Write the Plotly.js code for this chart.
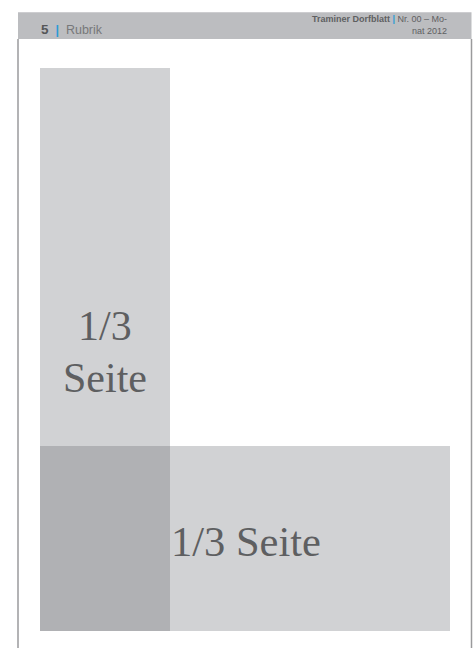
<!DOCTYPE html>
<html><head><meta charset="utf-8">
<script src="https://cdn.plot.ly/plotly-3.0.1.min.js"></script>
<style>html,body{margin:0;padding:0;background:#fff}#chart{width:476px;height:648px}</style>
</head><body><div id="chart"></div>
<script>
// Layout blocks of the page mock-up (page units = px of the sheet)
const blockNames = ["Kopfzeile", "1/3 Seite hoch", "1/3 Seite quer", "Überlappung"];
const blockX0 = [18, 40, 40, 40];
const blockX1 = [471.5, 170, 450, 170];
const blockY0 = [12.3, 68, 446, 446];
const blockY1 = [39, 446, 631, 631];
const blockColors = ["#bcbdc0", "#d1d2d4", "#d1d2d4", "#b0b1b4"];

const pageNumber = "5";
const sectionName = "Rubrik";
const publication = "Traminer Dorfblatt";
const issueLine1 = "Nr. 00 – Mo-";
const issueLine2 = "nat 2012";
const labelTall = ["1/3", "Seite"];
const labelWide = "1/3 Seite";

const shapes = blockNames.map((n, i) => ({
  type: "rect", xref: "x", yref: "y",
  x0: blockX0[i], x1: blockX1[i], y0: blockY0[i], y1: blockY1[i],
  fillcolor: blockColors[i], line: {width: 0}, layer: "below"
}));
// page edges
shapes.push({type: "line", xref: "x", yref: "y", x0: 18, x1: 18, y0: 39, y1: 648, line: {color: "#9a9a9c", width: 1.5}});
shapes.push({type: "line", xref: "x", yref: "y", x0: 471.5, x1: 471.5, y0: 39, y1: 648, line: {color: "#9a9a9c", width: 1.5}});

const serif = "Liberation Serif, Times New Roman, serif";
const sans = "Liberation Sans, Arial, sans-serif";
const blue = "#2b9bd6";

const annotations = [
  {x: 39, y: 29.5, xanchor: "left", yanchor: "middle", showarrow: false,
   text: "<span style='font-size:13.5px;color:#555658'><b>" + pageNumber + "</b></span>  <span style='color:" + blue + "'><b>|</b></span>  " + sectionName,
   font: {family: sans, size: 12.5, color: "#77787a"}},
  {x: 449, y: 18.5, xanchor: "right", yanchor: "middle", showarrow: false,
   text: "<b>" + publication + "</b> <span style='color:" + blue + "'><b>|</b></span> " + issueLine1,
   font: {family: sans, size: 9, color: "#5f6062"}},
  {x: 449, y: 30.5, xanchor: "right", yanchor: "middle", showarrow: false,
   text: issueLine2,
   font: {family: sans, size: 9, color: "#5f6062"}},
  {x: 105, y: 326, xanchor: "center", yanchor: "middle", showarrow: false,
   text: labelTall[0], font: {family: serif, size: 42, color: "#5e5f61"}},
  {x: 105, y: 378, xanchor: "center", yanchor: "middle", showarrow: false,
   text: labelTall[1], font: {family: serif, size: 42, color: "#5e5f61"}},
  {x: 245.5, y: 541, xanchor: "center", yanchor: "middle", showarrow: false,
   text: labelWide, font: {family: serif, size: 42.5, color: "#5e5f61"}}
];

Plotly.newPlot("chart", [{x: [0, 476], y: [0, 648], mode: "markers", marker: {opacity: 0}, hoverinfo: "skip", showlegend: false}], {
  width: 476, height: 648,
  margin: {l: 0, r: 0, t: 0, b: 0, pad: 0},
  paper_bgcolor: "#ffffff", plot_bgcolor: "#ffffff",
  xaxis: {range: [0, 476], visible: false, fixedrange: true},
  yaxis: {range: [648, 0], visible: false, fixedrange: true},
  shapes: shapes, annotations: annotations, showlegend: false
}, {displayModeBar: false, staticPlot: true});
</script></body></html>
